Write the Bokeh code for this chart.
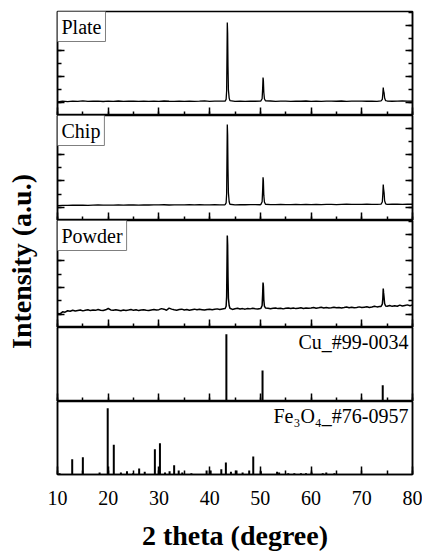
import math
from bokeh.plotting import figure
from bokeh.layouts import row, column
from bokeh.models import Label, LinearAxis, SingleIntervalTicker, Range1d
from bokeh.embed import file_html
from bokeh.resources import INLINE

FONT = "Liberation Serif"

# ---------------- data ----------------
# baseline grids (2theta, degree)
grid_1deg = [10, 11, 12, 13, 14, 15, 16, 17, 18, 19, 20, 21, 22, 23, 24, 25, 26, 27, 28, 29,
             30, 31, 32, 33, 34, 35, 36, 37, 38, 39, 40, 41, 42, 43, 44, 45, 46, 47, 48, 49,
             50, 51, 52, 53, 54, 55, 56, 57, 58, 59, 60, 61, 62, 63, 64, 65, 66, 67, 68, 69,
             70, 71, 72, 73, 74, 75, 76, 77, 78, 79, 80]

plate_base = [60, 120, 80, 110, 95, 130, 90, 105, 120, 85,
              110, 100, 125, 95, 105, 115, 90, 120, 100, 110,
              95, 125, 105, 90, 115, 100, 120, 95, 110, 130,
              100, 115, 120, 110, 105, 95, 120, 100, 115, 105,
              110, 100, 125, 95, 110, 120, 100, 115, 105, 125,
              100, 115, 95, 120, 110, 105, 125, 100, 115, 110,
              120, 105, 115, 100, 110, 125, 105, 115, 130, 110, 120]

chip_base = [120, 150, 140, 160, 155, 170, 150, 165, 175, 160,
             170, 160, 180, 165, 175, 185, 170, 180, 175, 190,
             180, 195, 175, 185, 190, 180, 200, 185, 195, 190,
             185, 200, 190, 195, 205, 190, 200, 195, 210, 200,
             195, 210, 200, 205, 215, 200, 210, 220, 205, 215,
             210, 220, 205, 215, 225, 210, 220, 230, 215, 225,
             220, 230, 215, 225, 235, 220, 230, 240, 225, 235, 230]

powder_grid = [10.0, 10.5, 11.0, 11.5, 12.0, 12.5, 13.0, 13.5, 14.0, 14.5, 15.0, 15.5, 16.0, 16.5, 17.0, 17.5, 18.0, 18.5, 19.0, 19.5,
               20.0, 20.5, 21.0, 21.5, 22.0, 22.5, 23.0, 23.5, 24.0, 24.5, 25.0, 25.5, 26.0, 26.5, 27.0, 27.5, 28.0, 28.5, 29.0, 29.5,
               30.0, 30.5, 31.0, 31.5, 32.0, 32.5, 33.0, 33.5, 34.0, 34.5, 35.0, 35.5, 36.0, 36.5, 37.0, 37.5, 38.0, 38.5, 39.0, 39.5,
               40.0, 40.5, 41.0, 41.5, 42.0, 42.5, 43.0, 43.5, 44.0, 44.5, 45.0, 45.5, 46.0, 46.5, 47.0, 47.5, 48.0, 48.5, 49.0, 49.5,
               50.0, 50.5, 51.0, 51.5, 52.0, 52.5, 53.0, 53.5, 54.0, 54.5, 55.0, 55.5, 56.0, 56.5, 57.0, 57.5, 58.0, 58.5, 59.0, 59.5,
               60.0, 60.5, 61.0, 61.5, 62.0, 62.5, 63.0, 63.5, 64.0, 64.5, 65.0, 65.5, 66.0, 66.5, 67.0, 67.5, 68.0, 68.5, 69.0, 69.5,
               70.0, 70.5, 71.0, 71.5, 72.0, 72.5, 73.0, 73.5, 74.0, 74.5, 75.0, 75.5, 76.0, 76.5, 77.0, 77.5, 78.0, 78.5, 79.0, 79.5,
               80.0]

powder_base = [50, 30, 180, 150, 260, 220, 300, 240, 280, 320, 250, 300, 340, 270, 310, 290, 350, 300, 280, 330,
               430, 320, 290, 340, 300, 260, 320, 280, 310, 350, 290, 330, 270, 310, 340, 300, 280, 320, 360, 310,
               340, 420, 380, 300, 460, 380, 330, 300, 350, 380, 320, 360, 300, 340, 380, 330, 370, 340, 310, 360,
               380, 340, 370, 400, 350, 390, 420, 380, 400, 360, 410, 450, 390, 420, 380, 430, 400, 440, 410, 390,
               430, 460, 420, 450, 410, 440, 470, 420, 450, 400, 440, 470, 430, 460, 420, 450, 480, 430, 470, 440,
               460, 500, 450, 480, 520, 470, 500, 460, 490, 530, 480, 510, 470, 500, 540, 490, 520, 480, 510, 550,
               500, 530, 560, 510, 540, 600, 550, 580, 620, 560, 600, 650, 590, 630, 600, 680, 620, 660, 700, 640,
               700]

# diffraction peaks (2theta, counts) -- Cu (111), (200), (220)
plate_p111_x = [43.05, 43.25, 43.35, 43.43, 43.48, 43.55, 43.62, 43.7, 43.85, 44.0]
plate_p111_y = [120, 250, 900, 4000, 6210, 5400, 2800, 1000, 350, 160]
plate_p200_x = [50.1, 50.35, 50.45, 50.53, 50.6, 50.68, 50.8, 51.0]
plate_p200_y = [130, 300, 1100, 1945, 1700, 800, 300, 140]
plate_p220_x = [73.8, 74.05, 74.15, 74.23, 74.3, 74.4, 74.5, 74.7]
plate_p220_y = [130, 250, 700, 1170, 900, 750, 350, 150]

chip_p111_x = [43.05, 43.25, 43.35, 43.43, 43.48, 43.55, 43.62, 43.7, 43.85, 44.0]
chip_p111_y = [200, 330, 1000, 4200, 6280, 5500, 2900, 1100, 420, 230]
chip_p200_x = [50.1, 50.35, 50.45, 50.53, 50.6, 50.68, 50.8, 51.0]
chip_p200_y = [220, 420, 1300, 2280, 2000, 900, 400, 230]
chip_p220_x = [73.8, 74.05, 74.15, 74.23, 74.3, 74.4, 74.5, 74.7]
chip_p220_y = [240, 400, 1000, 1730, 1400, 1100, 500, 260]

powder_p111_x = [43.05, 43.25, 43.35, 43.43, 43.48, 43.55, 43.62, 43.7, 43.85, 44.0]
powder_p111_y = [430, 600, 1300, 4000, 5920, 5200, 2800, 1200, 650, 450]
powder_p200_x = [50.1, 50.35, 50.45, 50.53, 50.6, 50.68, 50.8, 51.0]
powder_p200_y = [440, 650, 1500, 2380, 2100, 1100, 600, 470]
powder_p220_x = [73.8, 74.05, 74.15, 74.23, 74.3, 74.4, 74.5, 74.7]
powder_p220_y = [580, 750, 1200, 1930, 1600, 1250, 800, 620]

# reference patterns (2theta, relative intensity)
cu_2theta = [43.30, 50.43, 74.13]
cu_int = [100, 46, 24]

fe3o4_2theta = [10.4, 12.9, 15.0, 18.3, 19.9, 21.1, 22.5, 23.7, 24.9, 26.1, 27.2, 29.2, 30.2,
                31.2, 32.1, 33.0, 33.9, 34.6, 36.4, 39.4, 40.2, 42.3, 43.2, 44.2, 45.3, 46.5,
                47.8, 48.6, 50.1, 53.3, 53.7, 55.5, 56.7, 58.0, 59.0, 60.1, 62.3, 63.0, 64.6]
fe3o4_int = [2, 23, 26, 3, 100, 45, 3, 5, 2, 9, 4, 38, 47,
             3, 5, 14, 6, 3, 2, 6, 6, 8, 18, 4, 6, 3,
             6, 27, 5, 4, 3, 2, 2, 2, 2, 3, 2, 3, 2]

panel_names = ["Plate", "Chip", "Powder"]
cu_label = "Cu_#99-0034"
fe_label = "Fe\u2083O\u2084_#76-0957"
x_label = "2 theta (degree)"
y_label = "Intensity (a.u.)"


def merge(bx, by, peaks):
    xs, ys = [], []
    for x, y in zip(bx, by):
        if any(px[0] <= x <= px[-1] for px, _ in peaks):
            continue
        xs.append(x)
        ys.append(y)
    for px, py in peaks:
        xs.extend(px)
        ys.extend(py)
    order = sorted(range(len(xs)), key=lambda i: xs[i])
    return [xs[i] for i in order], [ys[i] for i in order]


plate_x, plate_y = merge(grid_1deg, plate_base, [(plate_p111_x, plate_p111_y),
                                                 (plate_p200_x, plate_p200_y),
                                                 (plate_p220_x, plate_p220_y)])
chip_x, chip_y = merge(grid_1deg, chip_base, [(chip_p111_x, chip_p111_y),
                                              (chip_p200_x, chip_p200_y),
                                              (chip_p220_x, chip_p220_y)])
powder_x, powder_y = merge(powder_grid, powder_base, [(powder_p111_x, powder_p111_y),
                                                      (powder_p200_x, powder_p200_y),
                                                      (powder_p220_x, powder_p220_y)])

# ---------------- layout ----------------
FRAME_W = 355
x_range = Range1d(10, 80)


def hide_labels(ax):
    ax.major_label_text_font_size = "0px"
    ax.major_label_text_color = None
    ax.major_label_standoff = 0


def make_panel(frame_h, y0, y1, yticks=True, bottom_labels=False, top=0, bottom=0):
    p = figure(frame_width=FRAME_W, frame_height=frame_h, x_range=x_range,
               y_range=Range1d(y0, y1), toolbar_location=None, output_backend="svg",
               min_border_left=12, min_border_right=10, min_border_top=top,
               min_border_bottom=bottom)
    p.grid.visible = False
    p.outline_line_color = "black"
    p.outline_line_width = 1.5
    p.background_fill_color = "white"
    p.border_fill_color = "white"

    xa = p.xaxis[0]
    xa.ticker = SingleIntervalTicker(interval=10, num_minor_ticks=2)
    xa.major_tick_in = 8
    xa.major_tick_out = 0
    xa.minor_tick_in = 4
    xa.minor_tick_out = 0
    xa.axis_line_width = 1.5
    xa.major_tick_line_width = 1.5
    xa.minor_tick_line_width = 1.5
    xa.axis_line_color = "black"
    xa.major_tick_line_color = "black"
    xa.minor_tick_line_color = "black"
    if bottom_labels:
        xa.major_label_text_font = FONT
        xa.major_label_text_font_size = "20px"
        xa.major_label_text_color = "black"
        xa.major_label_standoff = 16
        xa.axis_label = x_label
        xa.axis_label_text_font = FONT
        xa.axis_label_text_font_size = "28px"
        xa.axis_label_text_font_style = "bold"
        xa.axis_label_text_color = "black"
        xa.axis_label_standoff = 12
    else:
        hide_labels(xa)

    ya = p.yaxis[0]
    ra = LinearAxis()
    p.add_layout(ra, "right")
    for ax in (ya, ra):
        ax.ticker = SingleIntervalTicker(interval=2000, num_minor_ticks=2)
        ax.major_tick_in = 7 if yticks else 0
        ax.minor_tick_in = 4 if yticks else 0
        ax.major_tick_out = 0
        ax.minor_tick_out = 0
        ax.axis_line_width = 1.5
        ax.major_tick_line_width = 1.5
        ax.minor_tick_line_width = 1.5
        ax.axis_line_color = "black"
        ax.major_tick_line_color = "black" if yticks else None
        ax.minor_tick_line_color = "black" if yticks else None
        hide_labels(ax)
    return p


def name_box(p, text, ytop):
    p.add_layout(Label(x=10, y=ytop, text=text, text_align="left", text_baseline="top",
                       text_font=FONT, text_font_size="20px", text_color="black",
                       border_line_color="#7f7f7f", border_line_width=1,
                       background_fill_color="white", padding=4))


p_plate = make_panel(104, -1000, 7062, top=11)
p_plate.line(plate_x, plate_y, line_width=1.3, color="black")
name_box(p_plate, panel_names[0], 7062)

p_chip = make_panel(105, -1000, 6955)
p_chip.line(chip_x, chip_y, line_width=1.3, color="black")
name_box(p_chip, panel_names[1], 6955)

p_powder = make_panel(107, -1000, 7045)
p_powder.line(powder_x, powder_y, line_width=1.5, color="black")
name_box(p_powder, panel_names[2], 7045)

p_cu = make_panel(74, 0, 110, yticks=False)
p_cu.segment(x0=cu_2theta, y0=[0] * len(cu_2theta), x1=cu_2theta, y1=cu_int,
             line_width=2, color="black")
p_cu.add_layout(Label(x=80, y=105.5, x_offset=-4, text=cu_label, text_align="right",
                      text_baseline="top", text_font=FONT, text_font_size="20px",
                      text_color="black"))

p_fe = make_panel(73, 0, 110, yticks=False, bottom_labels=True, bottom=60)
p_fe.segment(x0=fe3o4_2theta, y0=[0] * len(fe3o4_2theta), x1=fe3o4_2theta, y1=fe3o4_int,
             line_width=2, color="black")
p_fe.add_layout(Label(x=80, y=104, x_offset=-4, text=fe_label, text_align="right",
                      text_baseline="top", text_font=FONT, text_font_size="20px",
                      text_color="black"))

LAB_W, LAB_H = 45, 550
p_lab = figure(width=LAB_W, height=LAB_H, x_range=Range1d(0, LAB_W), y_range=Range1d(0, LAB_H),
               toolbar_location=None, output_backend="svg", min_border=0)
p_lab.axis.visible = False
p_lab.grid.visible = False
p_lab.outline_line_color = None
p_lab.add_layout(Label(x=21, y=LAB_H - 261, text=y_label, angle=math.pi / 2,
                       text_align="center", text_baseline="middle", text_font=FONT,
                       text_font_size="28px", text_font_style="bold", text_color="black"))

layout = row(p_lab, column(p_plate, p_chip, p_powder, p_cu, p_fe))

with open("out.html", "w") as f:
    f.write(file_html(layout, INLINE))
